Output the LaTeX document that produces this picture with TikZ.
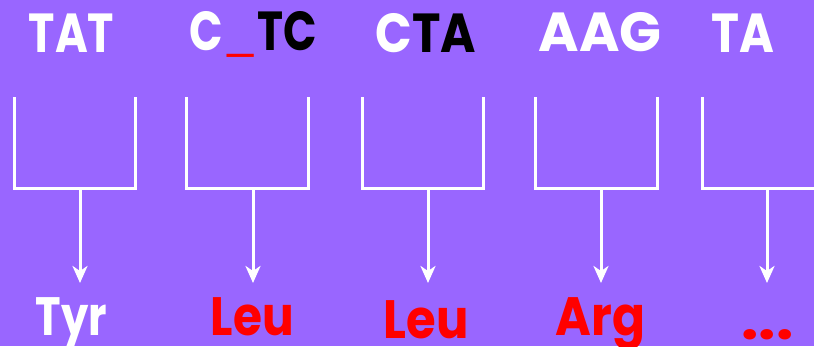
\documentclass[tikz,border=0pt]{standalone}
\usepackage{fontspec}
\setmainfont{Poppins}[BoldFont={Poppins Bold}]
\usetikzlibrary{arrows.meta}
\definecolor{bgpurple}{HTML}{9966FF}
\definecolor{aared}{HTML}{FF0000}
\tikzset{
  codon/.style={anchor=base, inner sep=0pt, font=\fontsize{55}{60}\selectfont\bfseries, text=white},
  amino/.style={anchor=base, inner sep=0pt, font=\fontsize{54}{60}\selectfont\bfseries},
  bracket/.style={draw=white, line width=3pt},
  trans/.style={draw=white, line width=3pt, -{Stealth[length=17pt,width=15pt,inset=5pt]}}
}
\newcommand{\hsq}[2]{\scalebox{#1}[1]{#2}}
\begin{document}
\begin{tikzpicture}[x=1pt,y=-1pt]
\fill[bgpurple] (0,0) rectangle (814,346);
\useasboundingbox (0,0) rectangle (814,346);
\clip (0,0) rectangle (814,346);
% codons
\node[codon] (c1) at (71.5,52) {\hsq{0.81}{TAT}};
\node[codon] (c2) at (253,50) {\hsq{0.8}{C\raisebox{-3.5pt}{\textcolor{aared}{\scalebox{1}[0.35]{\_}}}\textcolor{black}{TC}}};
\node[codon] (c3) at (426,52) {\hsq{0.875}{C\textcolor{black}{TA}}};
\node[codon] (c4) at (600,51) {AAG};
\node[codon] (c5) at (743,52) {\hsq{0.86}{TA}};
% amino acids
\node[amino, text=white] (a1) at (71.5,335) {\hsq{0.8}{Tyr}};
\node[amino, text=aared] (a2) at (252.5,335) {\hsq{0.87}{Leu}};
\node[amino, text=aared] (a3) at (426,338) {\hsq{0.89}{Leu}};
\node[amino, text=aared] (a4) at (600.5,335) {\hsq{0.9}{Arg}};
\node[amino, text=aared, font=\fontsize{56}{60}\selectfont\bfseries] (a5) at (767.5,339) {\hsq{1.1}{...}};
% brackets
\draw[bracket] (14,97) -- (14,188.5) -- (135,188.5) -- (135,97);
\draw[bracket] (186,97) -- (186,188.5) -- (308,188.5) -- (308,97);
\draw[bracket] (362,97) -- (362,188.5) -- (483,188.5) -- (483,97);
\draw[bracket] (535,97) -- (535,188.5) -- (657,188.5) -- (657,97);
\draw[bracket] (702,97) -- (702,188.5) -- (830,188.5);
% arrow ends
\coordinate (s1) at (80,188.5);  \coordinate (e1) at (80,283);
\coordinate (s2) at (253,188.5); \coordinate (e2) at (253,283);
\coordinate (s3) at (428,188.5); \coordinate (e3) at (428,283);
\coordinate (s4) at (601,188.5); \coordinate (e4) at (601,283);
\coordinate (s5) at (767,188.5); \coordinate (e5) at (767,283);
\draw[trans] (s1) -- (e1);
\draw[trans] (s2) -- (e2);
\draw[trans] (s3) -- (e3);
\draw[trans] (s4) -- (e4);
\draw[trans] (s5) -- (e5);
\end{tikzpicture}
\end{document}
